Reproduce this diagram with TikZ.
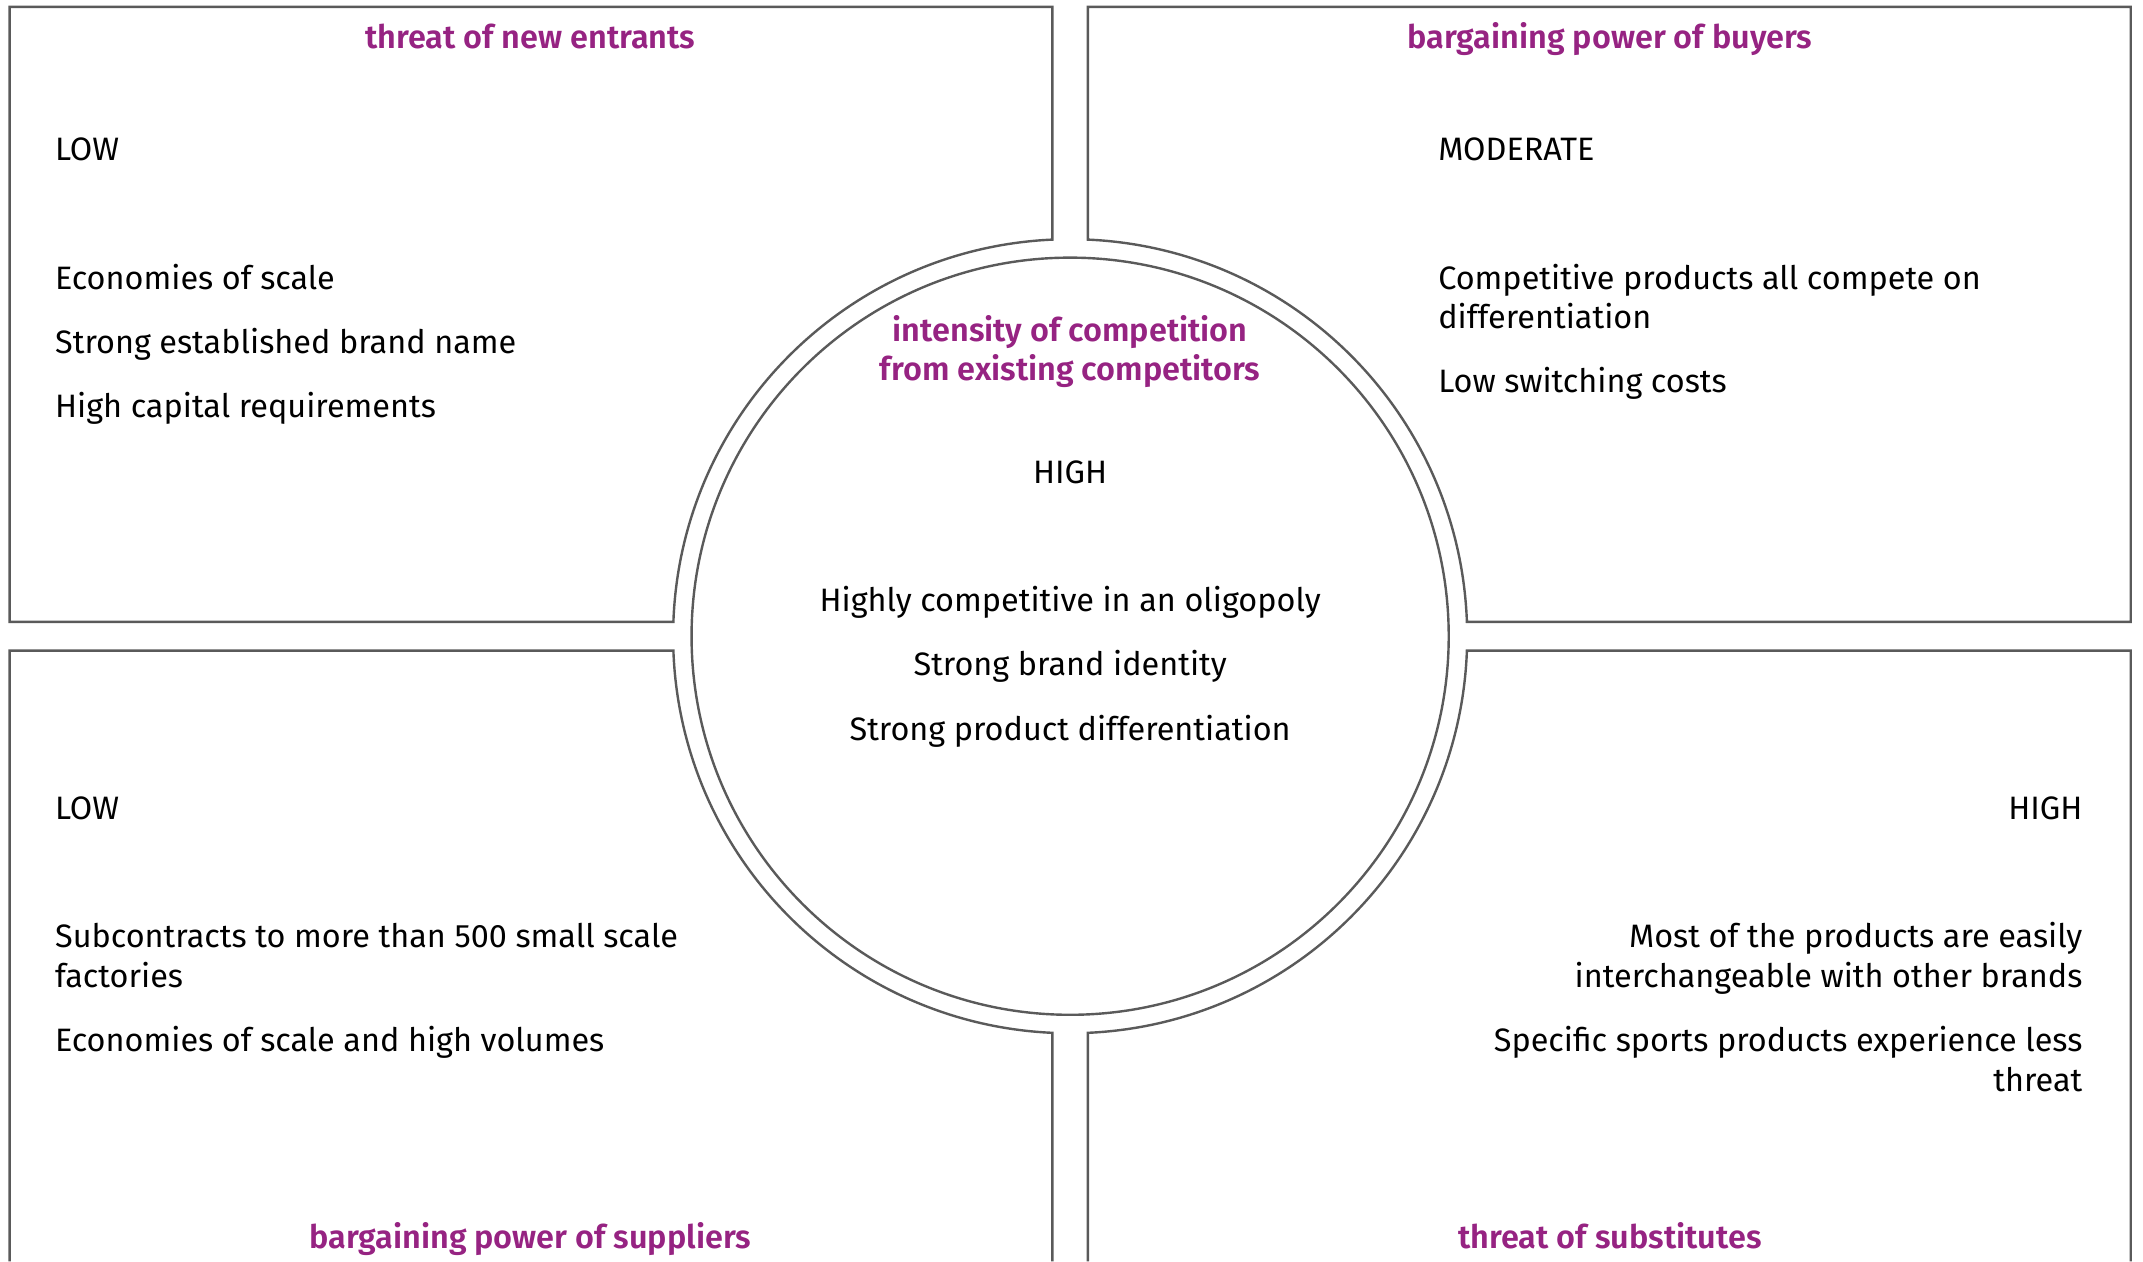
\documentclass[tikz,border=0pt]{standalone}
\usepackage{fontspec}
\setmainfont{Fira Sans}[BoldFont={Fira Sans SemiBold}]
\usetikzlibrary{calc}
\definecolor{forcepurple}{RGB}{150,35,130}
\definecolor{rimgray}{RGB}{90,90,90}
\tikzset{rim/.style={draw=rimgray, line width=1pt, line join=miter},
         txt/.style={inner sep=0pt, font=\fontsize{13.5}{16.5}\selectfont},
         item/.style={txt, anchor=base west, align=left},
         ritem/.style={txt, anchor=base east, align=right},
         citem/.style={txt, anchor=base, align=center},
         head/.style={txt, anchor=base, align=center, text=forcepurple, font=\fontsize{13.5}{16.5}\selectfont\bfseries}}

\begin{document}
\begin{tikzpicture}[x=0.02cm, y=-0.02cm]
    \useasboundingbox (0,0) rectangle (1568,923);
    \def\R{290.5}
    \coordinate (ctr) at (783,465.5);

    % the four boxes, cut round the ring
    \draw[rim] (7,5) -- (770,5) -- ($(ctr)+({270-asin(13/\R)}:\R)$)
        arc[start angle={270-asin(13/\R)}, end angle={180+asin(10.5/\R)}, radius=\R]
        -- (7,455) -- cycle;
    \draw[rim] (1559,5) -- (796,5) -- ($(ctr)+({270+asin(13/\R)}:\R)$)
        arc[start angle={270+asin(13/\R)}, end angle={360-asin(10.5/\R)}, radius=\R]
        -- (1559,455) -- cycle;
    \draw[rim] (7,923) -- (7,476) -- ($(ctr)+({180-asin(10.5/\R)}:\R)$)
        arc[start angle={180-asin(10.5/\R)}, end angle={90+asin(13/\R)}, radius=\R]
        -- (770,923);
    \draw[rim] (1559,923) -- (1559,476) -- ($(ctr)+({asin(10.5/\R)}:\R)$)
        arc[start angle={asin(10.5/\R)}, end angle={90-asin(13/\R)}, radius=\R]
        -- (796,923);
    \draw[rim] (ctr) circle[radius=277];

    % threat of new entrants
    \node[head] (entrants) at (388,35.5) {threat of new entrants};
    \node[item] (entlevel) at (40,117.6) {LOW};
    \foreach \t [count=\n] in {Economies of scale, Strong established brand name, High capital requirements}
        \node[item] (ent\n) at (40,{164.5+47*\n}) {\t};

    % bargaining power of buyers (base = last line)
    \node[head] (buyers) at (1178,35.5) {bargaining power of buyers};
    \node[item] (buylevel) at (1052,117.6) {MODERATE};
    \node[item] (buy1) at (1052,240.5) {Competitive products all compete on\\differentiation};
    \node[item] (buy2) at (1052,287.5) {Low switching costs};

    % rivalry
    \node[head] (rivalry) at (783,278.5) {intensity of competition\\from existing competitors};
    \node[citem] (rivlevel) at (783,353.5) {HIGH};
    \foreach \t [count=\n] in {Highly competitive in an oligopoly, Strong brand identity, Strong product differentiation}
        \node[citem] (riv\n) at (783,{400.5+47*\n}) {\t};

    % bargaining power of suppliers
    \node[item] (suplevel) at (40,599.5) {LOW};
    \node[item] (sup1) at (40,722.5) {Subcontracts to more than 500 small scale\\factories};
    \node[item] (sup2) at (40,769.5) {Economies of scale and high volumes};
    \node[head] (suppliers) at (388,913.5) {bargaining power of suppliers};

    % threat of substitutes
    \node[ritem] (sublevel) at (1524,599.5) {HIGH};
    \node[ritem] (sub1) at (1524,722.5) {Most of the products are easily\\interchangeable with other brands};
    \node[ritem] (sub2) at (1524,798.5) {Specific sports products experience less\\threat};
    \node[head] (substitutes) at (1178,913.5) {threat of substitutes};
\end{tikzpicture}
\end{document}
